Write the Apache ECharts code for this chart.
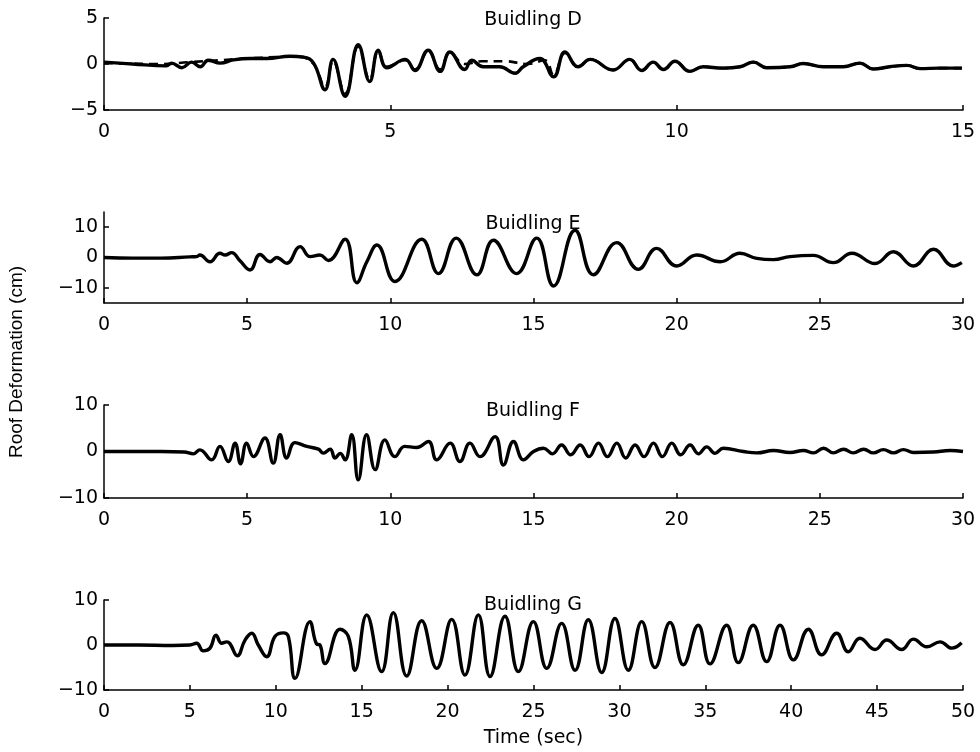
<!DOCTYPE html>
<html>
<head>
<meta charset="utf-8">
<title>Roof Deformation</title>
<script src="https://cdn.jsdelivr.net/npm/echarts@6/dist/echarts.min.js"></script>
<style>
    html, body { margin: 0; padding: 0; background: #fff; }
    #chart { width: 980px; height: 752px; }
</style>
</head>
<body>
<div id="chart"></div>
<script>
// 读图得到的数据: [时间(s), 屋顶变形(cm)]
const titles = ['Buidling D', 'Buidling E', 'Buidling F', 'Buidling G'];
const xMax = [15, 30, 30, 50];
const yMin = [-5, -15, -10, -10];
const yMax = [5, 15, 10, 10];
const yTicks = [[-5, 0, 5], [-10, 0, 10], [-10, 0, 10], [-10, 0, 10]];

const buildingD = [
    [0, 0.2], [0.5, 0.0], [1.09, -0.2], [1.18, 0.1], [1.36, -0.4], [1.53, 0.2], [1.68, -0.3],
    [1.82, 0.4], [2.03, 0.1], [2.26, 0.45], [2.55, 0.6], [2.84, 0.6], [3.25, 0.85], [3.48, 0.75],
    [3.66, 0.1], [3.86, -2.8], [4.0, 0.5], [4.21, -3.5], [4.44, 2.1], [4.64, -1.9], [4.79, 1.5],
    [4.94, -0.4], [5.26, 0.5], [5.43, -0.7], [5.66, 1.5], [5.87, -0.8], [6.04, 1.3], [6.3, -0.6],
    [6.42, 0.4], [6.62, -0.3], [6.91, -0.3], [7.18, -1.0], [7.32, -0.3], [7.61, 0.6], [7.85, -1.4],
    [8.05, 1.3], [8.28, -0.3], [8.49, 0.5], [8.89, -0.65], [9.18, 0.5], [9.39, -0.7], [9.59, 0.2],
    [9.77, -0.6], [9.97, 0.3], [10.23, -0.8], [10.46, -0.3], [10.81, -0.45], [11.11, -0.3],
    [11.34, 0.2], [11.57, -0.4], [11.98, -0.3], [12.21, 0.05], [12.56, -0.3], [12.91, -0.3],
    [13.2, 0.1], [13.43, -0.55], [13.72, -0.3], [14.02, -0.15], [14.25, -0.5], [14.6, -0.45],
    [14.98, -0.45]
];

// 虚线 (与实线大部分重合)
const buildingD2 = [
    [0, 0.1], [1.0, 0.0], [1.5, 0.2], [2.0, 0.4], [2.5, 0.6], [3.0, 0.75], [3.4, 0.8],
    [3.66, 0.0], [3.86, -2.5], [4.0, 0.3], [4.21, -3.2], [4.44, 1.9], [4.64, -1.7], [4.79, 1.4],
    [4.94, -0.3], [5.26, 0.4], [5.43, -0.6], [5.66, 1.4], [5.87, -0.6], [6.04, 1.2], [6.3, 0.0],
    [6.6, 0.3], [7.0, 0.3], [7.4, 0.0], [7.7, 0.4], [7.85, -1.2], [8.05, 1.2], [8.28, -0.3],
    [8.49, 0.5], [8.89, -0.65], [9.18, 0.5], [9.39, -0.7], [9.59, 0.2], [9.77, -0.6], [9.97, 0.3],
    [10.23, -0.8], [10.46, -0.3], [10.81, -0.45], [11.11, -0.3], [11.34, 0.2], [11.57, -0.4],
    [11.98, -0.3], [12.21, 0.05], [12.56, -0.3], [12.91, -0.3], [13.2, 0.1], [13.43, -0.55],
    [13.72, -0.3], [14.02, -0.15], [14.25, -0.5], [14.6, -0.45], [14.98, -0.45]
];

const buildingE = [
    [0, 0], [1, -0.2], [2, -0.2], [3, 0.2], [3.24, 0.3], [3.35, 0.8], [3.7, -1.4], [4.05, 1.4],
    [4.23, 0.8], [4.46, 1.6], [4.75, -1.1], [5.1, -4.1], [5.45, 1.0], [5.8, -1.4], [6.03, 0],
    [6.38, -1.9], [6.85, 3.6], [7.2, 0.3], [7.54, 0.8], [7.84, -1.0], [8.42, 6.0], [8.83, -8.3],
    [9.18, -1.4], [9.53, 4.1], [10.16, -7.9], [11.1, 6.0], [11.68, -5.3], [12.3, 6.4], [13.02, -5.7],
    [13.6, 5.7], [14.41, -5.3], [15.11, 6.4], [15.7, -9.4], [16.45, 9.0], [17.09, -5.7], [17.91, 4.9],
    [18.66, -3.9], [19.3, 3.0], [20.0, -2.8], [20.7, 0.8], [21.52, -1.4], [22.21, 1.4], [22.8, -0.3],
    [23.38, -0.7], [23.96, 0.3], [24.77, 0.7], [25.47, -1.7], [26.12, 1.4], [26.93, -2.0],
    [27.57, 1.9], [28.27, -2.8], [28.97, 2.7], [29.66, -2.8], [29.96, -1.7]
];

const buildingF = [
    [0, 0], [1, 0], [2, 0], [2.8, -0.1], [3.12, -0.5], [3.35, 0.36], [3.76, -1.8], [4.05, 1.1],
    [4.34, -2.15], [4.58, 1.8], [4.77, -2.65], [4.98, 1.8], [5.22, -1.1], [5.62, 2.9], [5.91, -2.5],
    [6.15, 3.6], [6.38, -1.4], [6.67, 1.9], [7.08, 1.1], [7.49, 0.5], [7.66, -0.36], [7.9, 0.5],
    [8.07, -1.4], [8.25, -0.4], [8.42, -1.8], [8.65, 3.6], [8.88, -6.1], [9.17, 3.6], [9.47, -3.9],
    [9.81, 2.5], [10.16, -1.1], [10.5, 1.1], [10.92, 0.86], [11.33, 2.15], [11.62, -1.8],
    [12.09, 1.8], [12.43, -2.15], [12.78, 1.8], [13.13, -1.1], [13.66, 3.2], [13.95, -2.9],
    [14.3, 2.15], [14.65, -1.8], [15.0, 0], [15.35, 0.7], [15.66, -0.5], [15.98, 1.4], [16.3, -0.7],
    [16.63, 1.4], [16.94, -1.1], [17.27, 1.8], [17.58, -1.1], [17.91, 1.8], [18.22, -1.4],
    [18.55, 1.4], [18.86, -1.1], [19.19, 1.8], [19.5, -1.1], [19.83, 1.8], [20.14, -0.7],
    [20.47, 1.4], [20.76, -0.5], [21.05, 1.0], [21.34, -0.4], [21.63, 0.7], [22.33, 0],
    [22.8, -0.3], [23.38, 0.2], [23.96, -0.2], [24.43, 0.2], [24.78, -0.3], [25.13, 0.7],
    [25.47, -0.3], [25.83, 0.5], [26.17, -0.3], [26.53, 0.5], [26.87, -0.3], [27.22, 0.4],
    [27.57, -0.3], [27.92, 0.4], [28.27, -0.2], [28.97, -0.1], [29.55, 0.2], [30, 0]
];

const buildingG = [
    [0, 0], [2, 0], [4, -0.1], [5, 0], [5.39, 0.4], [5.78, -1.3], [6.17, -0.7], [6.52, 2.2],
    [6.85, 0.4], [7.14, 0.7], [7.33, 0.3], [7.76, -2.4], [8.21, 1.1], [8.6, 2.6], [8.98, 0],
    [9.47, -2.6], [9.95, 1.9], [10.44, 2.7], [10.73, 1.9], [11.12, -7.4], [11.99, 5.2], [12.38, 0.2],
    [12.57, 0], [12.86, -4.1], [13.74, 3.5], [14.22, 1.9], [14.61, -5.6], [15.29, 6.7], [16.16, -5.9],
    [16.84, 7.2], [17.62, -6.9], [18.49, 5.4], [19.37, -5.2], [20.24, 5.7], [21.01, -6.7],
    [21.79, 6.7], [22.47, -7.0], [23.34, 6.4], [24.12, -5.9], [24.99, 5.2], [25.77, -5.2],
    [26.64, 4.8], [27.42, -5.6], [28.19, 5.6], [28.97, -6.1], [29.74, 5.9], [30.52, -5.6],
    [31.3, 5.2], [32.07, -5.0], [32.95, 5.0], [33.72, -4.4], [34.59, 4.4], [35.27, -4.2],
    [36.24, 4.4], [36.92, -3.9], [37.79, 4.4], [38.57, -3.7], [39.35, 4.4], [40.13, -3.3],
    [41.0, 3.5], [41.77, -2.2], [42.65, 2.6], [43.32, -1.5], [44.0, 1.5], [44.88, -1.0],
    [45.56, 1.1], [46.43, -1.0], [47.11, 1.3], [47.89, -0.4], [48.67, 0.7], [49.34, -0.7],
    [49.92, 0.5]
];

// 布局 (原图横向略有拉伸, 横排文字用较宽的 DejaVu Sans)
const FONT = 'DejaVu Sans, sans-serif';
const FONT_V = 'Liberation Sans, Arial, sans-serif';
const gridTops = [18, 212, 405, 600];
const gridHeights = [92, 91, 93, 90];
const titleTops = [11, 215, 402, 596];

function minus(v) {
    return String(v).replace('-', '\u2212');
}

const chart = echarts.init(document.getElementById('chart'));

const grid = [], xAxis = [], yAxis = [], title = [];
for (let i = 0; i < 4; i++) {
    grid.push({ left: 104, top: gridTops[i], width: 859, height: gridHeights[i] });
    xAxis.push({
        type: 'value', gridIndex: i, min: 0, max: xMax[i], interval: 5,
        axisLine: { onZero: false, lineStyle: { color: '#000', width: 1.5 } },
        axisTick: { inside: true, length: 5, lineStyle: { color: '#000', width: 1.5 } },
        axisLabel: { color: '#000', fontSize: 19, fontFamily: FONT, margin: 13 },
        splitLine: { show: false },
        name: i === 3 ? 'Time (sec)' : '',
        nameLocation: 'middle',
        nameGap: 39,
        nameTextStyle: { color: '#000', fontSize: 19, fontFamily: FONT }
    });
    yAxis.push({
        type: 'value', gridIndex: i, min: yMin[i], max: yMax[i],
        axisLine: { onZero: false, lineStyle: { color: '#000', width: 1.5 } },
        axisTick: { inside: true, length: 5, customValues: yTicks[i], lineStyle: { color: '#000', width: 1.5 } },
        axisLabel: { color: '#000', fontSize: 19, fontFamily: FONT, margin: 6, customValues: yTicks[i], formatter: minus },
        splitLine: { show: false }
    });
    title.push({
        text: titles[i], left: 533, top: titleTops[i], textAlign: 'center', padding: 0,
        textStyle: { color: '#000', fontSize: 19, fontWeight: 'normal', fontFamily: FONT }
    });
}

function line(data, idx, dashed) {
    return {
        type: 'line', xAxisIndex: idx, yAxisIndex: idx, data: data,
        smooth: 0.45, symbol: 'none', animation: false,
        lineStyle: dashed
            ? { color: '#000', width: 2.6, type: [9, 6] }
            : { color: '#000', width: 3.4 }
    };
}

chart.setOption({
    backgroundColor: '#fff',
    animation: false,
    title: title,
    grid: grid,
    xAxis: xAxis,
    yAxis: yAxis,
    series: [
        line(buildingD2, 0, true),
        line(buildingD, 0, false),
        line(buildingE, 1, false),
        line(buildingF, 2, false),
        line(buildingG, 3, false)
    ],
    graphic: [{
        type: 'text', x: 17, y: 362, rotation: Math.PI / 2,
        style: {
            text: 'Roof Deformation (cm)', fill: '#000', fontSize: 19, fontFamily: FONT_V,
            align: 'center', verticalAlign: 'middle'
        }
    }]
});
</script>
</body>
</html>
